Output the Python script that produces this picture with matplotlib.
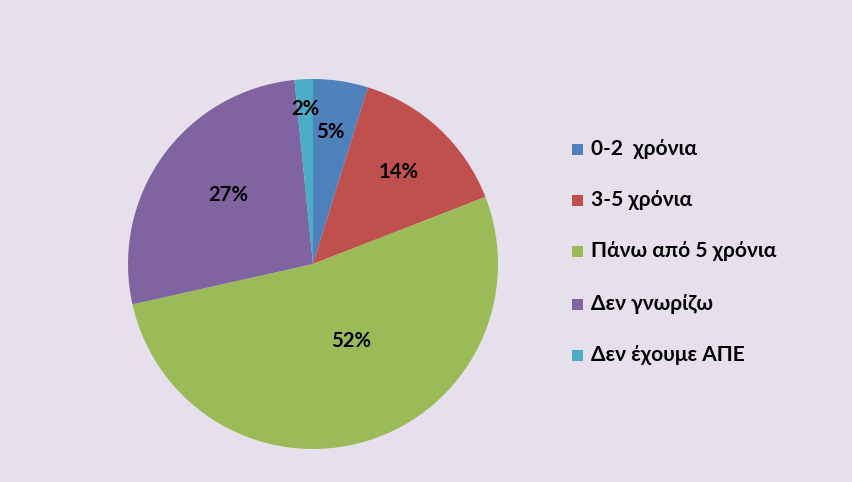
import matplotlib
matplotlib.use("Agg")
import matplotlib.pyplot as plt
from matplotlib.patches import Rectangle
import numpy as np

categories = ["0-2  χρόνια", "3-5 χρόνια", "Πάνω από 5 χρόνια", "Δεν γνωρίζω", "Δεν έχουμε ΑΠΕ"]
values = [4.8, 14.3, 52.4, 26.9, 1.6]
colors = ["#4F81BD", "#C0504D", "#9BBB59", "#8064A2", "#4BACC6"]
label_radius = [0.72, 0.68, 0.465, 0.59, 0.84]
label_angle_offset = [1.0, 0.0, 9.3, -3.4, 0.0]

BG = "#E6E0EC"
FONT = ["Lato", "DejaVu Sans"]
plt.rcParams['font.family'] = FONT

W, H = 853, 482
fig = plt.figure(figsize=(W / 100, H / 100), dpi=100, facecolor=BG)

cx, cy, R = 313, 264, 185
ax = fig.add_axes([(cx - R) / W, (H - cy - R) / H, 2 * R / W, 2 * R / H])
ax.set_facecolor(BG)
wedges, _ = ax.pie(values, colors=colors, startangle=90, counterclock=False,
                   radius=1, wedgeprops=dict(linewidth=0))
ax.set_xlim(-1, 1)
ax.set_ylim(-1, 1)
ax.set_aspect('equal')
ax.axis('off')

for w, v, r, off in zip(wedges, values, label_radius, label_angle_offset):
    ang = np.deg2rad((w.theta1 + w.theta2) / 2 + off)
    ax.text(r * np.cos(ang), r * np.sin(ang), f"{round(v)}%", ha='center', va='center',
            fontsize=14.6, fontweight='bold', color='black')

# legend
x_sq, sq = 572, 11
x_txt = 591
rows = [149, 200, 251, 304, 355]
for lab, c, y in zip(categories, colors, rows):
    fig.patches.append(Rectangle(((x_sq) / W, (H - y - sq / 2) / H), sq / W, sq / H,
                                 transform=fig.transFigure, facecolor=c, edgecolor='none'))
    fig.text(x_txt / W, (H - y) / H, lab, ha='left', va='center', fontsize=15,
             fontweight='bold', color='black')

fig.savefig("out.png", dpi=100, facecolor=BG)
